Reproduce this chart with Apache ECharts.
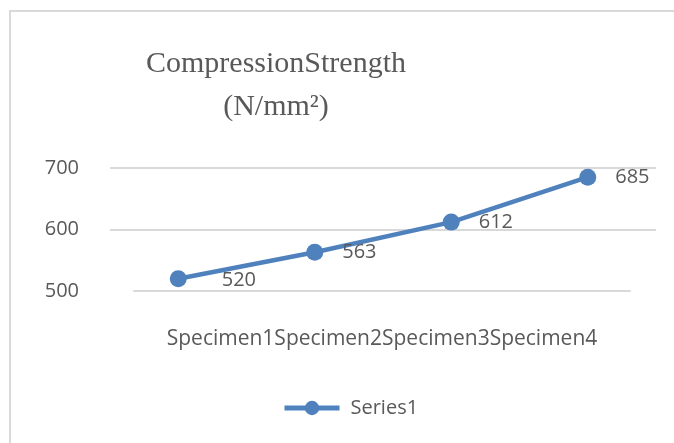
<!DOCTYPE html>
<html>
<head>
<meta charset="utf-8">
<script src="https://cdn.jsdelivr.net/npm/echarts@6/dist/echarts.min.js"></script>
<style>html,body{margin:0;padding:0;background:#fff}#c{width:674px;height:443px}</style>
</head>
<body>
<div id="c"></div>
<script>
const titleText = 'CompressionStrength\n(N/mm²)';
const categories = ['Specimen1', 'Specimen2', 'Specimen3', 'Specimen4'];
const seriesName = 'Series1';
const values = [520, 563, 612, 685];
const yTicks = { min: 500, max: 700, interval: 100 };

const chart = echarts.init(document.getElementById('c'), null, { renderer: 'canvas' });
const txt = '#595959';
const blue = '#4f81bd';
const font = 'Open Sans';

chart.setOption({
  animation: false,
  backgroundColor: '#fff',
  title: {
    text: titleText,
    left: 271, top: 38, textAlign: 'center',
    textStyle: { fontFamily: 'Liberation Serif', fontWeight: 'normal', fontSize: 30, color: txt, lineHeight: 43 }
  },
  legend: {
    data: [seriesName], left: 282, top: 398, padding: 0,
    itemWidth: 55, itemHeight: 18, itemGap: 10,
    lineStyle: { width: 5 },
    textStyle: { fontFamily: font, fontSize: 20, color: txt, padding: [0, 0, 0, 6] }
  },
  graphic: [{
    type: 'rect', silent: true,
    shape: { x: 10, y: 11, width: 700, height: 500 },
    style: { fill: 'none', stroke: '#d9d9d9', lineWidth: 2 }
  }],
  grid: [
    { left: 110, right: 18, top: 168, bottom: 152 },
    { left: 134, right: 44, top: 168, bottom: 152 }
  ],
  xAxis: [
    { type: 'category', gridIndex: 0, data: categories, boundaryGap: true,
      axisLine: { show: false }, axisTick: { show: false }, axisLabel: { show: false } },
    { type: 'category', gridIndex: 1, data: categories,
      axisLine: { show: true, lineStyle: { color: '#d9d9d9', width: 2 } },
      axisTick: { show: false }, axisLabel: { show: false },
      name: categories.join(''), nameLocation: 'middle', nameGap: 38,
      nameTextStyle: { fontFamily: font, fontSize: 21, color: txt } }
  ],
  yAxis: [
    { type: 'value', gridIndex: 0, min: yTicks.min, max: yTicks.max, interval: yTicks.interval,
      axisLine: { show: false }, axisTick: { show: false },
      axisLabel: { fontFamily: font, fontSize: 20, color: txt, margin: 31 },
      splitLine: { show: true, showMinLine: false, lineStyle: { color: '#d9d9d9', width: 2 } } },
    { type: 'value', gridIndex: 1, min: yTicks.min, max: yTicks.max, show: false,
      splitLine: { show: false } }
  ],
  series: [{
    name: seriesName, type: 'line', xAxisIndex: 0, yAxisIndex: 0,
    data: values.map((v, i) => i === 0 ? { value: v, label: { offset: [16, 2] } } : v),
    symbol: 'circle', symbolSize: 17,
    lineStyle: { color: blue, width: 4.5 },
    itemStyle: { color: blue },
    label: { show: true, position: 'right', distance: 19, fontFamily: font, fontSize: 20, color: txt }
  }]
});
</script>
</body>
</html>
